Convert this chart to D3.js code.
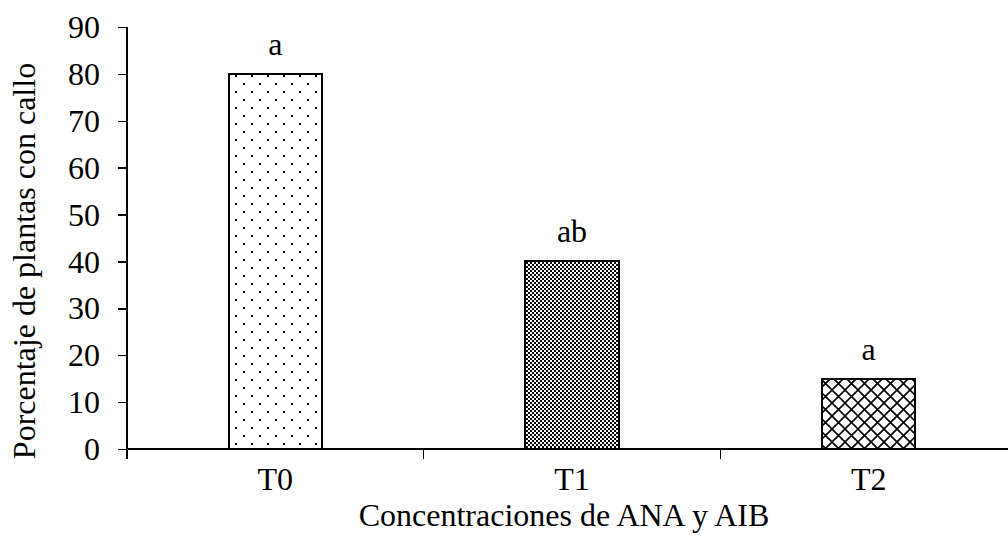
<!DOCTYPE html>
<meta charset="utf-8">
<script src="https://d3js.org/d3.v7.min.js"></script>
<style>
  body { margin: 0; background: #fff; }
  text { font-family: "Liberation Serif", "Times New Roman", serif; fill: #000; }
  .axis path, .axis line { stroke: #000; stroke-width: 1.5px; shape-rendering: crispEdges; }
  .axis text { font-size: 32px; }
  .bar { stroke: #000; stroke-width: 2px; shape-rendering: crispEdges; }
</style>
<body>
<script>
  var categories = ['T0', 'T1', 'T2'];
  var values = [80, 40, 15];
  var letters = ['a', 'ab', 'a'];
  var yTicks = [0, 10, 20, 30, 40, 50, 60, 70, 80, 90];
  var fills = ['url(#dots)', 'url(#checks)', 'url(#diamonds)'];

  var width = 1008, height = 546;

  var svg = d3.select('body').append('svg')
    .attr('width', width)
    .attr('height', height);

  var defs = svg.append('defs');

  // sparse staggered dots
  var dots = defs.append('pattern').attr('id', 'dots')
    .attr('patternUnits', 'userSpaceOnUse')
    .attr('width', 16).attr('height', 16);
  dots.append('rect').attr('width', 16).attr('height', 16).attr('fill', '#fff');
  dots.append('rect').attr('x', 3).attr('y', 3).attr('width', 2).attr('height', 2).attr('fill', '#000');
  dots.append('rect').attr('x', 11).attr('y', 11).attr('width', 2).attr('height', 2).attr('fill', '#000');

  // fine checkerboard
  var checks = defs.append('pattern').attr('id', 'checks')
    .attr('patternUnits', 'userSpaceOnUse')
    .attr('width', 4).attr('height', 4);
  checks.append('rect').attr('width', 4).attr('height', 4).attr('fill', '#fff');
  checks.append('rect').attr('width', 2).attr('height', 2).attr('fill', '#000');
  checks.append('rect').attr('x', 2).attr('y', 2).attr('width', 2).attr('height', 2).attr('fill', '#000');

  // diagonal cross hatch
  var diam = defs.append('pattern').attr('id', 'diamonds')
    .attr('patternUnits', 'userSpaceOnUse')
    .attr('width', 13).attr('height', 13);
  diam.append('rect').attr('width', 13).attr('height', 13).attr('fill', '#fff');
  diam.append('path').attr('d', 'M0,0L13,13M13,0L0,13')
    .attr('stroke', '#000').attr('stroke-width', 1.6);

  var x = d3.scaleBand().domain(categories).range([127, 1017]).padding(0);
  var y = d3.scaleLinear().domain([0, 90]).range([449, 27]);
  var barW = x.bandwidth() * 0.315;

  // x axis line with ticks at band boundaries
  var bounds = categories.map(function(d) { return x(d); }).concat([x.range()[1]]);
  var gx = svg.append('g').attr('class', 'axis')
    .attr('transform', 'translate(0,' + y(0) + ')');
  gx.append('line').attr('x1', 127).attr('x2', 1017);
  gx.selectAll('line.tk').data(bounds)
    .enter().append('line').attr('class', 'tk')
    .attr('x1', function(d) { return d; })
    .attr('x2', function(d) { return d; })
    .attr('y1', 0).attr('y2', 10);
  gx.selectAll('text').data(categories)
    .enter().append('text')
    .attr('x', function(d) { return x(d) + x.bandwidth() / 2; })
    .attr('y', 41)
    .attr('text-anchor', 'middle')
    .text(function(d) { return d; });

  // bars
  svg.selectAll('rect.bar').data(values)
    .enter().append('rect')
    .attr('class', 'bar')
    .attr('x', function(d, i) { return x(categories[i]) + x.bandwidth() / 2 - barW / 2; })
    .attr('y', function(d) { return y(d); })
    .attr('width', barW)
    .attr('height', function(d) { return y(0) - y(d); })
    .attr('fill', function(d, i) { return fills[i]; });

  // significance letters
  svg.selectAll('text.letter').data(values)
    .enter().append('text')
    .attr('class', 'letter')
    .attr('x', function(d, i) { return x(categories[i]) + x.bandwidth() / 2; })
    .attr('y', function(d) { return y(d) - 19; })
    .attr('text-anchor', 'middle')
    .style('font-size', '32px')
    .text(function(d, i) { return letters[i]; });

  // y axis
  var gy = svg.append('g').attr('class', 'axis')
    .attr('transform', 'translate(127,0)')
    .call(d3.axisLeft(y).tickValues(yTicks).tickSize(9).tickPadding(18).tickSizeOuter(0));
  gy.select('.domain').attr('d', 'M0,' + y(90) + 'V' + (y(0) + 10));
  gy.selectAll('text').attr('font-family', null).attr('font-size', null).attr('dy', '0.33em');

  svg.append('text')
    .attr('x', 564).attr('y', 526)
    .attr('text-anchor', 'middle')
    .style('font-size', '32px')
    .text('Concentraciones de ANA y AIB');

  svg.append('text')
    .attr('transform', 'translate(35,' + 261 + ') rotate(-90)')
    .attr('text-anchor', 'middle')
    .style('font-size', '32px')
    .text('Porcentaje de plantas con callo');
</script>
</body>
</html>
